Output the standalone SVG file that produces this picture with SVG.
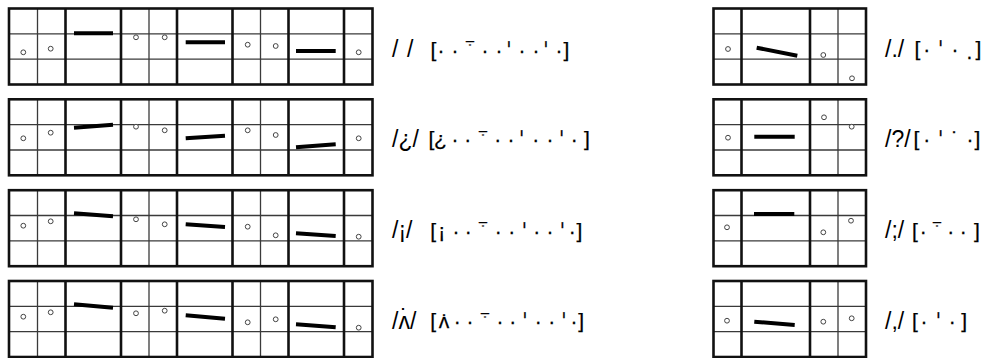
<svg xmlns="http://www.w3.org/2000/svg" xmlns:xlink="http://www.w3.org/1999/xlink" width="986" height="358" viewBox="0 0 986 358">
<style>
.out{fill:none;stroke:#111;stroke-width:2.6}
.thk{stroke:#111;stroke-width:2.6}
.thn{stroke:#3a3a3a;stroke-width:1.3}
.bar{stroke:#000;stroke-width:4;fill:none}
.dot{fill:#fff;stroke:#444;stroke-width:1}
text{font-family:"Liberation Sans","DejaVu Sans",sans-serif;font-size:21px;fill:#000}
.ph{font-size:23px}
.br{text-anchor:middle;stroke:#000;stroke-width:0.25}
.tk{font-family:"DejaVu Sans","Liberation Sans",sans-serif}
.sp{font-family:"DejaVu Sans","Liberation Sans",sans-serif;font-size:17px}
</style>
<defs>
<g id="gridL">
<line class="thn" x1="9" y1="25.3" x2="372.5" y2="25.3"/>
<line class="thn" x1="9" y1="50.7" x2="372.5" y2="50.7"/>
<line class="thn" x1="37.5" y1="0" x2="37.5" y2="76"/>
<line class="thn" x1="149" y1="0" x2="149" y2="76"/>
<line class="thn" x1="260.5" y1="0" x2="260.5" y2="76"/>
<line class="thk" x1="65.5" y1="0" x2="65.5" y2="76"/>
<line class="thk" x1="121" y1="0" x2="121" y2="76"/>
<line class="thk" x1="177" y1="0" x2="177" y2="76"/>
<line class="thk" x1="232.5" y1="0" x2="232.5" y2="76"/>
<line class="thk" x1="288.5" y1="0" x2="288.5" y2="76"/>
<line class="thk" x1="344" y1="0" x2="344" y2="76"/>
<rect class="out" x="9" y="0" width="363.5" height="76"/>
</g>
<g id="gridR">
<line class="thn" x1="713.5" y1="25.3" x2="866" y2="25.3"/>
<line class="thn" x1="713.5" y1="50.7" x2="866" y2="50.7"/>
<line class="thn" x1="838" y1="0" x2="838" y2="76"/>
<line class="thk" x1="741.5" y1="0" x2="741.5" y2="76"/>
<line class="thk" x1="810" y1="0" x2="810" y2="76"/>
<rect class="out" x="713.5" y="0" width="152.5" height="76"/>
</g>
</defs>

<g id="row1-left">
<use xlink:href="#gridL" href="#gridL" y="8.5"/>
<circle class="dot" cx="23.3" cy="52.3" r="2.4"/>
<circle class="dot" cx="50.7" cy="48.7" r="2.4"/>
<line class="bar" x1="74" y1="33.3" x2="113" y2="33.3"/>
<circle class="dot" cx="136" cy="37.3" r="2.4"/>
<circle class="dot" cx="164.7" cy="37.3" r="2.4"/>
<line class="bar" x1="185.7" y1="42.3" x2="225" y2="42.3"/>
<circle class="dot" cx="247.7" cy="44.7" r="2.4"/>
<circle class="dot" cx="275.7" cy="46" r="2.4"/>
<line class="bar" x1="296" y1="51" x2="335.7" y2="51"/>
<circle class="dot" cx="358.7" cy="52.3" r="2.4"/>
<text class="ph" x="392 400 407" y="57">/ /</text>
<text class="br" x="433.5 441 455 470 485 499 509 522 536 546 559 566.5" y="56.5 56.5 56.5 45 56.5">[··<tspan class="sp">⨪</tspan>··<tspan class="tk">ˈ</tspan>··<tspan class="tk">ˈ</tspan>·]</text>
</g>

<g id="row2-left">
<use xlink:href="#gridL" href="#gridL" y="99.3"/>
<circle class="dot" cx="23.3" cy="138.3" r="2.4"/>
<circle class="dot" cx="50.7" cy="132.7" r="2.4"/>
<line class="bar" x1="74" y1="127.7" x2="113" y2="124.7"/>
<circle class="dot" cx="136" cy="126.7" r="2.4"/>
<circle class="dot" cx="164.7" cy="130.3" r="2.4"/>
<line class="bar" x1="185.7" y1="138.3" x2="225" y2="135.7"/>
<circle class="dot" cx="247.7" cy="130.3" r="2.4"/>
<circle class="dot" cx="275.7" cy="135" r="2.4"/>
<line class="bar" x1="296" y1="147.3" x2="335.7" y2="144.3"/>
<circle class="dot" cx="358.7" cy="138.3" r="2.4"/>
<text class="ph" x="392" y="146.5">/¿/</text>
<text class="br" x="431.5 440.5 455 467.7 482.7 497.7 511 521.7 535.7 550 561.7 574.3 586.8" y="146 146 146 146 134.5 146">[¿··<tspan class="sp">⨪</tspan>··<tspan class="tk">ˈ</tspan>··<tspan class="tk">ˈ</tspan>·]</text>
</g>

<g id="row3-left">
<use xlink:href="#gridL" href="#gridL" y="190.2"/>
<circle class="dot" cx="23.3" cy="225.7" r="2.4"/>
<circle class="dot" cx="50.7" cy="221.3" r="2.4"/>
<line class="bar" x1="74" y1="213.3" x2="113" y2="216.3"/>
<circle class="dot" cx="136" cy="219.3" r="2.4"/>
<circle class="dot" cx="164.7" cy="224.3" r="2.4"/>
<line class="bar" x1="185.7" y1="224.3" x2="225" y2="227"/>
<circle class="dot" cx="247.7" cy="226.7" r="2.4"/>
<circle class="dot" cx="275.7" cy="235.3" r="2.4"/>
<line class="bar" x1="296" y1="233.3" x2="335.7" y2="236"/>
<circle class="dot" cx="358.7" cy="236.7" r="2.4"/>
<text class="ph" x="392" y="238">/¡/</text>
<text class="br" x="433.2 441.7 456 468.3 483.3 498.3 511.7 524.3 536.7 550 562.3 572.3 579.5" y="237.5 237.5 237.5 237.5 226 237.5">[¡··<tspan class="sp">⨪</tspan>··<tspan class="tk">ˈ</tspan>··<tspan class="tk">ˈ</tspan>·]</text>
</g>

<g id="row4-left">
<use xlink:href="#gridL" href="#gridL" y="281"/>
<circle class="dot" cx="23.3" cy="316.7" r="2.4"/>
<circle class="dot" cx="50.7" cy="312.3" r="2.4"/>
<line class="bar" x1="74" y1="304.3" x2="113" y2="307.7"/>
<circle class="dot" cx="136" cy="313.3" r="2.4"/>
<circle class="dot" cx="164.7" cy="310.7" r="2.4"/>
<line class="bar" x1="185.7" y1="315.3" x2="225" y2="318.7"/>
<circle class="dot" cx="247.7" cy="322.3" r="2.4"/>
<circle class="dot" cx="275.7" cy="319.3" r="2.4"/>
<line class="bar" x1="296" y1="324.3" x2="335.7" y2="327.3"/>
<circle class="dot" cx="358.7" cy="327.7" r="2.4"/>
<text class="ph" x="392" y="328.5">/ʌ̇/</text>
<text class="br" x="433.2 444 444 457.3 470 485 500 512.7 525 538.3 551.7 564 574 581.2" y="328 328 328 328 328 316.5 328">[ʌ̇··<tspan class="sp">⨪</tspan>··<tspan class="tk">ˈ</tspan>··<tspan class="tk">ˈ</tspan>·]</text>
</g>

<g id="row1-right">
<use xlink:href="#gridR" href="#gridR" y="8.5"/>
<circle class="dot" cx="728" cy="49" r="2.4"/>
<line class="bar" x1="756.7" y1="47.7" x2="797.3" y2="55.7"/>
<circle class="dot" cx="823.3" cy="55" r="2.4"/>
<circle class="dot" cx="852" cy="78.3" r="2.4"/>
<text class="ph" x="885" y="57">/./</text>
<text class="br" x="917.5 926.7 940.7 955 969.3 978.5" y="56 56 56 56 59 56">[·<tspan class="tk">ˈ</tspan>·.]</text>
</g>

<g id="row2-right">
<use xlink:href="#gridR" href="#gridR" y="99.3"/>
<circle class="dot" cx="728" cy="137.7" r="2.4"/>
<line class="bar" x1="754.3" y1="136.7" x2="794.7" y2="136.7"/>
<circle class="dot" cx="824" cy="117.3" r="2.4"/>
<circle class="dot" cx="851.7" cy="126.7" r="2.4"/>
<text class="ph" x="885" y="146.5">/?/</text>
<text class="br" x="916.5 926.7 940.7 955 970 977.5" y="146">[·<tspan class="tk">ˈ</tspan>˙·]</text>
</g>

<g id="row3-right">
<use xlink:href="#gridR" href="#gridR" y="190.2"/>
<circle class="dot" cx="727" cy="227.3" r="2.4"/>
<line class="bar" x1="754" y1="214" x2="794.3" y2="214"/>
<circle class="dot" cx="823.3" cy="232.3" r="2.4"/>
<circle class="dot" cx="851" cy="220.7" r="2.4"/>
<text class="ph" x="885" y="238">/;/</text>
<text class="br" x="914.8 923.3 936.7 950.7 963.3 976.8" y="237.5 237.5 226 237.5">[·<tspan class="sp">⨪</tspan>··]</text>
</g>

<g id="row4-right">
<use xlink:href="#gridR" href="#gridR" y="281"/>
<circle class="dot" cx="727" cy="320.7" r="2.4"/>
<line class="bar" x1="754.3" y1="321.7" x2="794.7" y2="325"/>
<circle class="dot" cx="823.3" cy="321.7" r="2.4"/>
<circle class="dot" cx="851.7" cy="318.3" r="2.4"/>
<text class="ph" x="885" y="328.5">/,/</text>
<text class="br" x="914.8 924 938.3 952.3 964.2" y="328">[·<tspan class="tk">ˈ</tspan>·]</text>
</g>
</svg>
